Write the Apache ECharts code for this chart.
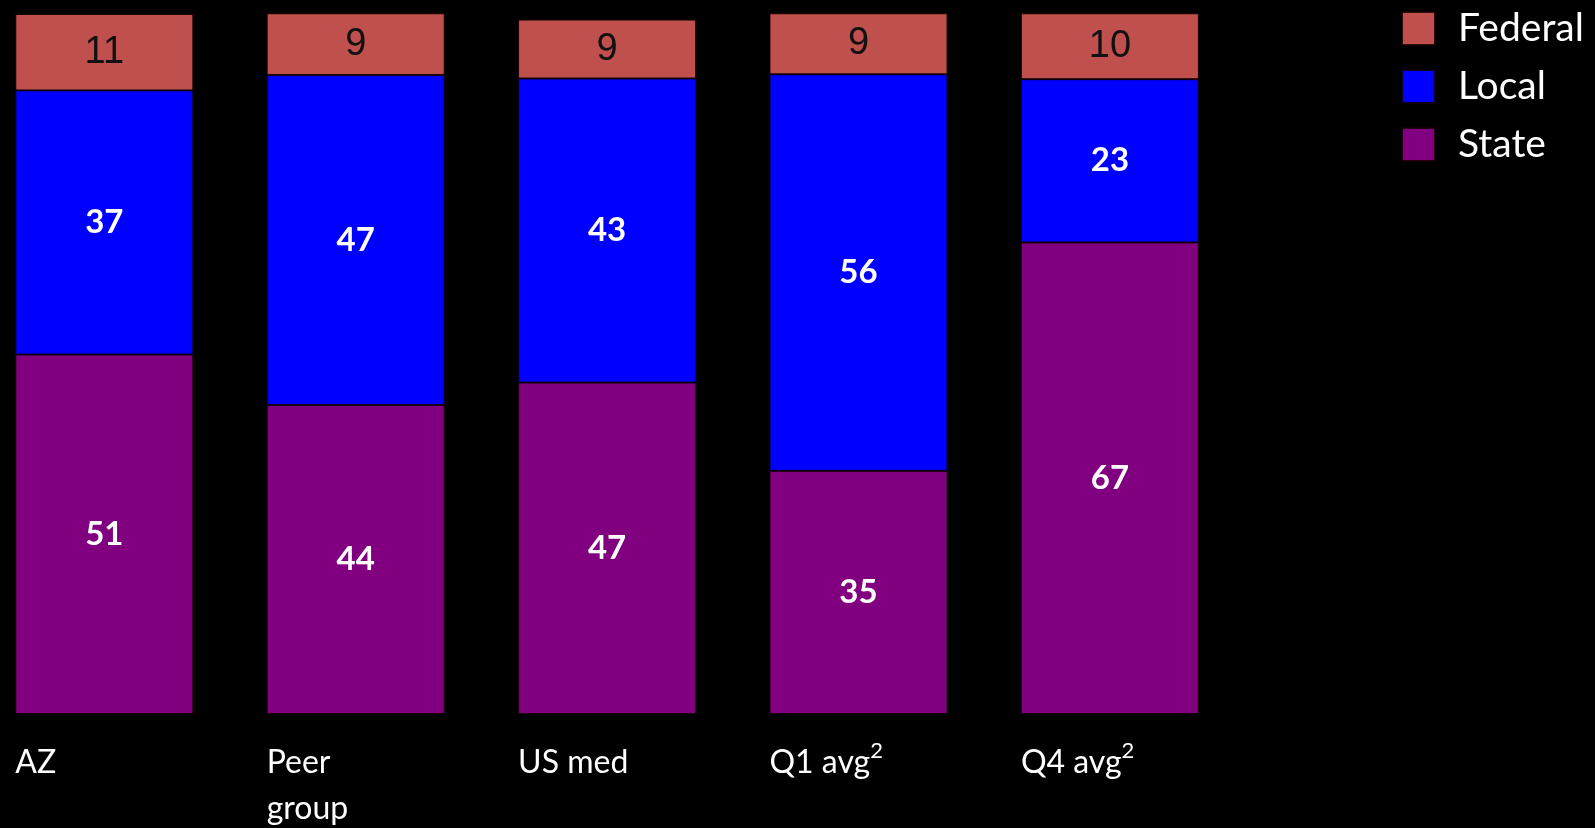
<!DOCTYPE html>
<html>
<head>
<meta charset="utf-8">
<style>
html,body{margin:0;padding:0;background:#000;}
#chart{width:1595px;height:828px;}
</style>
<script src="https://cdn.jsdelivr.net/npm/echarts@6/dist/echarts.min.js"></script>
</head>
<body>
<div id="chart"></div>
<script>
const categories = ['AZ', 'Peer\ngroup', 'US med', 'Q1 avg²', 'Q4 avg²'];
// segment heights
const stateValues = [51.3, 44.1, 47.3, 34.7, 67.3];
const localValues = [37.7, 47.1, 43.4, 56.6, 23.3];
const federalValues = [10.9, 8.8, 8.4, 8.7, 9.4];
// printed labels
const stateLabels = [51, 44, 47, 35, 67];
const localLabels = [37, 47, 43, 56, 23];
const federalLabels = [11, 9, 9, 9, 10];
const legendOrder = ['Federal', 'Local', 'State'];
const colors = { State: '#800080', Local: '#0000FF', Federal: '#C0504D' };

const chart = echarts.init(document.getElementById('chart'));
const firstCenter = 104.3, step = 251.4, barW = 178;
const gridWidth = step * (categories.length - 1);

function barSeries(name, data, labels, labelStyle) {
  return {
    name: name,
    type: 'bar',
    stack: 'total',
    xAxisIndex: 0,
    yAxisIndex: 0,
    barWidth: barW,
    data: data,
    itemStyle: { color: colors[name], borderColor: 'rgba(20,0,0,0.85)', borderWidth: 1 },
    label: Object.assign({
      show: true,
      position: 'inside',
      formatter: p => String(labels[p.dataIndex])
    }, labelStyle),
    emphasis: { disabled: true }
  };
}

chart.setOption({
  backgroundColor: '#000',
  animation: false,
  legend: {
    data: legendOrder,
    orient: 'vertical',
    left: 1401,
    top: 9,
    padding: 0,
    itemWidth: 33,
    itemHeight: 33,
    itemGap: 19,
    icon: 'rect',
    selectedMode: false,
    textStyle: { color: '#fff', fontFamily: 'Lato', fontSize: 39, lineHeight: 36, padding: [0, 0, 0, 18] }
  },
  grid: [
    { left: firstCenter, width: gridWidth, top: 13.3, bottom: 114, outerBoundsMode: 'none', containLabel: false },
    { left: firstCenter - barW / 2, width: gridWidth, top: 13.3, bottom: 114, outerBoundsMode: 'none', containLabel: false }
  ],
  xAxis: [
    { type: 'category', gridIndex: 0, boundaryGap: false, data: categories,
      axisLine: { show: false }, axisTick: { show: false }, axisLabel: { show: false }, splitLine: { show: false } },
    { type: 'category', gridIndex: 1, boundaryGap: false, data: categories,
      axisLine: { show: false }, axisTick: { show: false }, splitLine: { show: false },
      axisLabel: { show: true, interval: 0, align: 'left', verticalAlign: 'top', margin: 26, lineHeight: 46,
        color: '#fff', fontFamily: 'Lato', fontSize: 32, hideOverlap: false,
        formatter: v => v.replace('²', '{sup|2}'),
        rich: { sup: { fontSize: 22, lineHeight: 34, verticalAlign: 'top', color: '#fff', fontFamily: 'Lato' } } } }
  ],
  yAxis: [
    { type: 'value', gridIndex: 0, min: 0, max: 100, show: false },
    { type: 'value', gridIndex: 1, min: 0, max: 100, show: false }
  ],
  series: [
    barSeries('State', stateValues, stateLabels, { color: '#fff', fontFamily: 'Lato', fontWeight: 'bold', fontSize: 33 }),
    barSeries('Local', localValues, localLabels, { color: '#fff', fontFamily: 'Lato', fontWeight: 'bold', fontSize: 33 }),
    barSeries('Federal', federalValues, federalLabels, { color: '#111', fontFamily: 'Liberation Sans', fontWeight: 'normal', fontSize: 38 })
  ]
});
</script>
</body>
</html>
